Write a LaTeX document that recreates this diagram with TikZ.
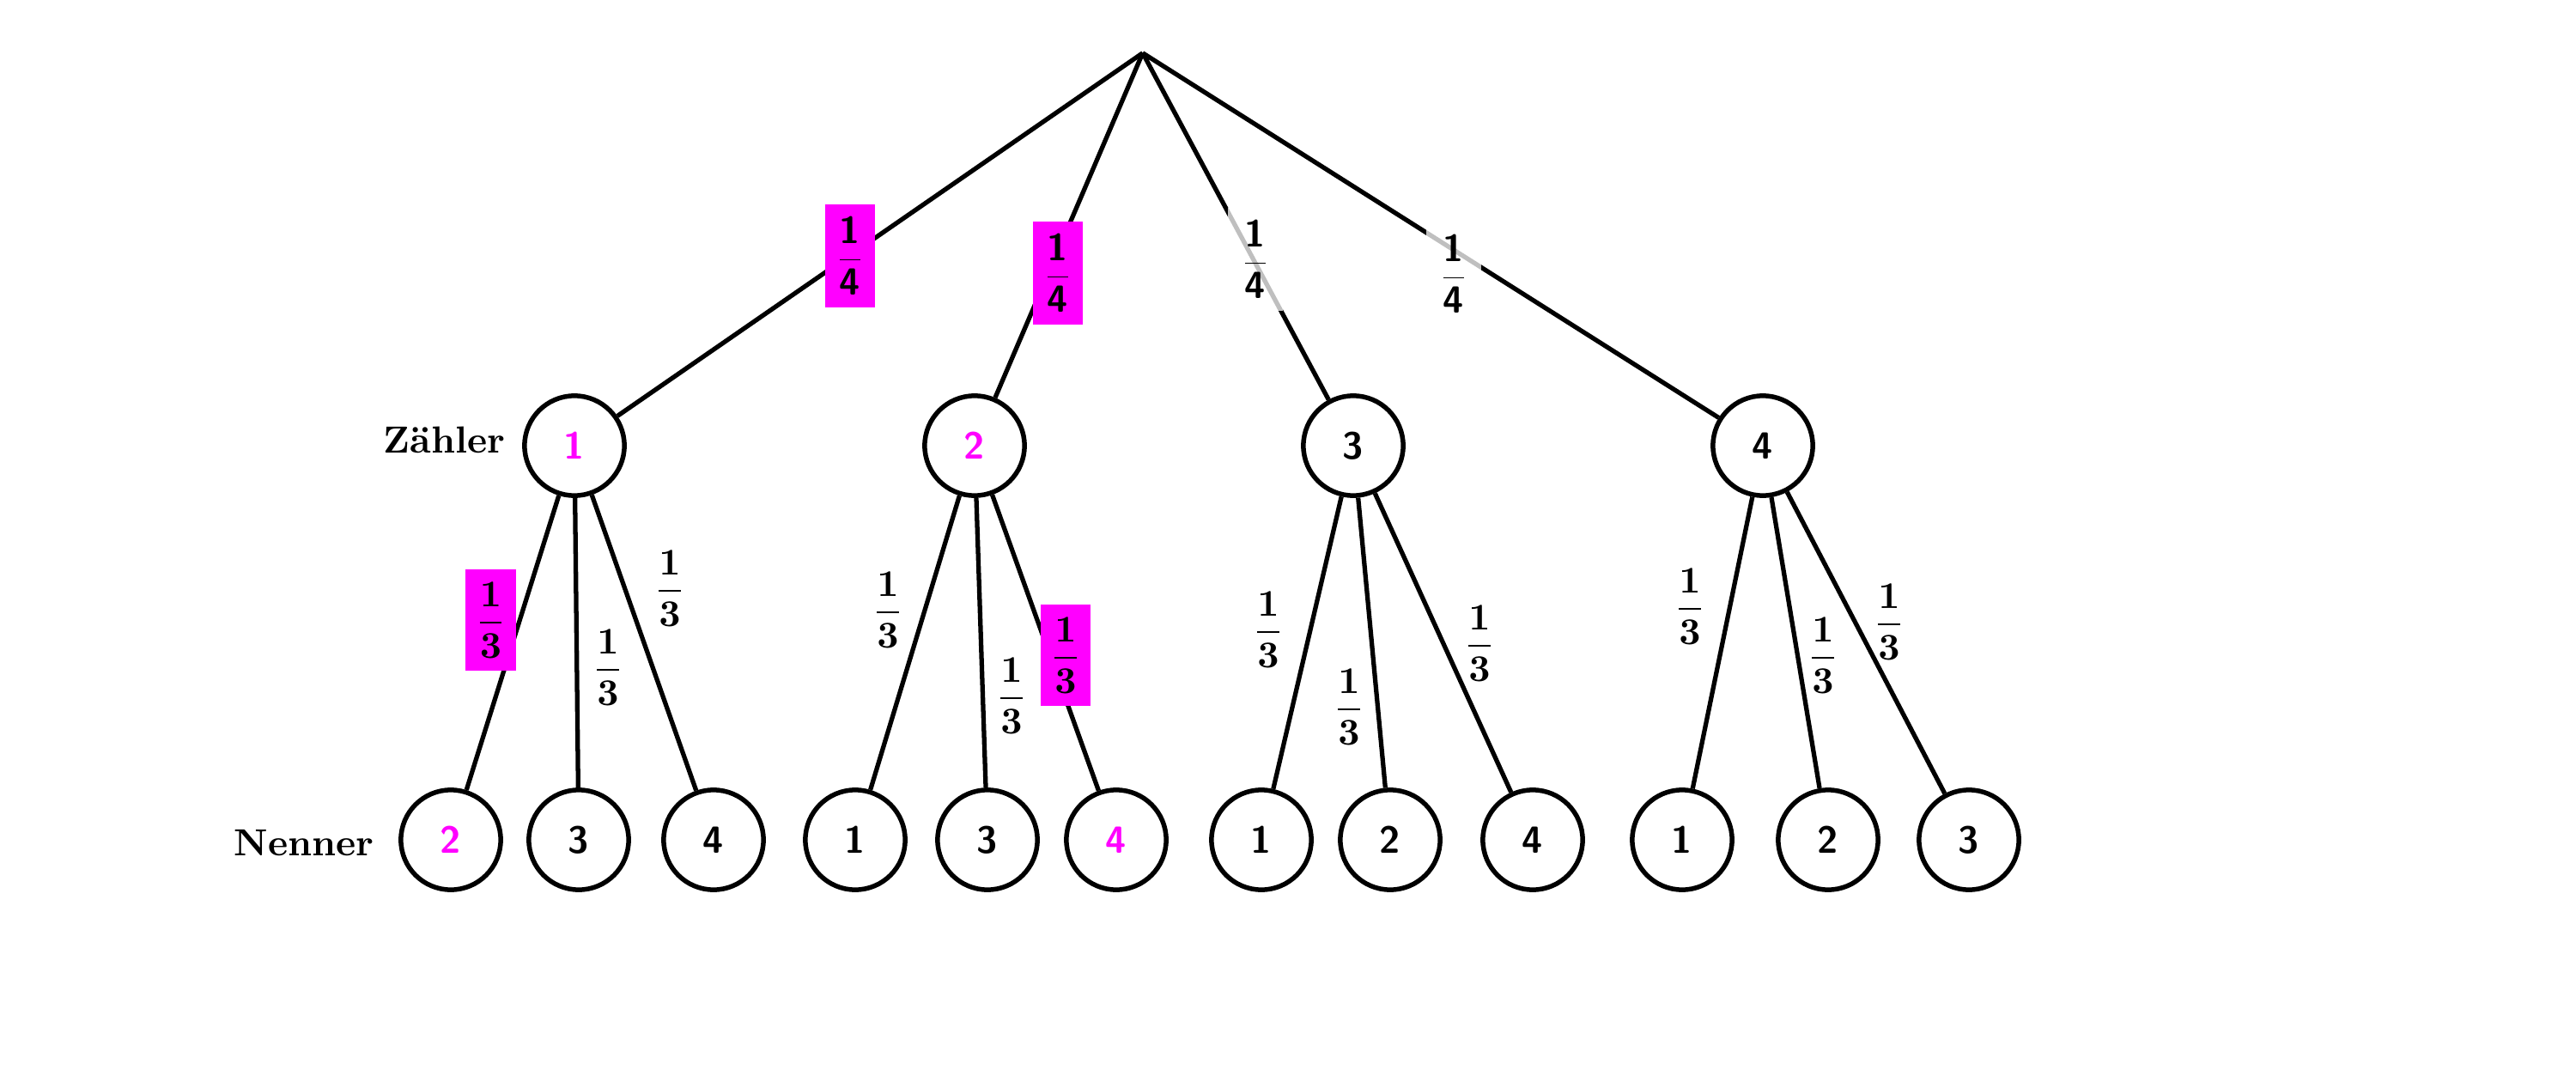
\documentclass[tikz,border=0pt]{standalone}
\usepackage{amsmath}
\usepackage{tikz}
\definecolor{pink}{RGB}{255,0,255}
\newcommand{\viertel}{$\dfrac{\textsf{\textbf{1}}}{\textsf{\textbf{4}}}$}
\newcommand{\drittel}{$\dfrac{\mathbf{1}}{\mathbf{3}}$}

\begin{document}
\begin{tikzpicture}[
    knot/.style={circle,draw,line width=1.25pt,minimum size=0.93cm,inner sep=0pt,font=\sffamily\bfseries},
    hl/.style={fill=pink,inner xsep=2.6pt},
    soft/.style={fill=white,fill opacity=0.75,text opacity=1}
  ]
    \useasboundingbox (0,0) rectangle (24,10.016);
    \coordinate (r) at (10.646,9.522);

    \node[knot,text=pink] (z1) at (5.352,5.864) {1};
    \node[knot,text=pink] (z2) at (9.08,5.864) {2};
    \node[knot] (z3) at (12.608,5.864) {3};
    \node[knot] (z4) at (16.424,5.864) {4};

    \node[knot,text=pink] (n11) at (4.2,2.192) {2};
    \node[knot] (n12) at (5.392,2.192) {3};
    \node[knot] (n13) at (6.648,2.192) {4};
    \node[knot] (n21) at (7.968,2.192) {1};
    \node[knot] (n22) at (9.2,2.192) {3};
    \node[knot,text=pink] (n23) at (10.4,2.192) {4};
    \node[knot] (n31) at (11.752,2.192) {1};
    \node[knot] (n32) at (12.952,2.192) {2};
    \node[knot] (n33) at (14.28,2.192) {4};
    \node[knot] (n41) at (15.672,2.192) {1};
    \node[knot] (n42) at (17.032,2.192) {2};
    \node[knot] (n43) at (18.344,2.192) {3};

    \node[font=\bfseries] (zl) at (4.14,5.92) {Zähler};
    \node[font=\bfseries] (nl) at (2.832,2.16) {Nenner};

    \foreach \k in {1,...,4}
    {
      \path[line width=1.2pt] (r) edge (z\k);
      \foreach \j in {1,2,3}
        \path[line width=1.2pt] (z\k) edge (n\k\j);
    };

    % Wahrscheinlichkeiten oben
    \node[hl] (p1) at (7.92,7.632) {\viertel};
    \node[hl] (p2) at (9.856,7.472) {\viertel};
    \node[soft] (p3) at (11.696,7.6) {\viertel};
    \node[soft] (p4) at (13.544,7.464) {\viertel};

    % Wahrscheinlichkeiten unten
    \node[hl] (p11) at (4.572,4.24) {\drittel};
    \node (p12) at (5.664,3.8) {\drittel};
    \node (p13) at (6.24,4.536) {\drittel};
    \node (p21) at (8.272,4.336) {\drittel};
    \node (p22) at (9.424,3.536) {\drittel};
    \node[hl] (p23) at (9.928,3.912) {\drittel};
    \node (p31) at (11.816,4.152) {\drittel};
    \node (p32) at (12.568,3.432) {\drittel};
    \node (p33) at (13.784,4.024) {\drittel};
    \node (p41) at (15.744,4.368) {\drittel};
    \node (p42) at (16.984,3.912) {\drittel};
    \node (p43) at (17.6,4.224) {\drittel};

  \end{tikzpicture}
\end{document}
